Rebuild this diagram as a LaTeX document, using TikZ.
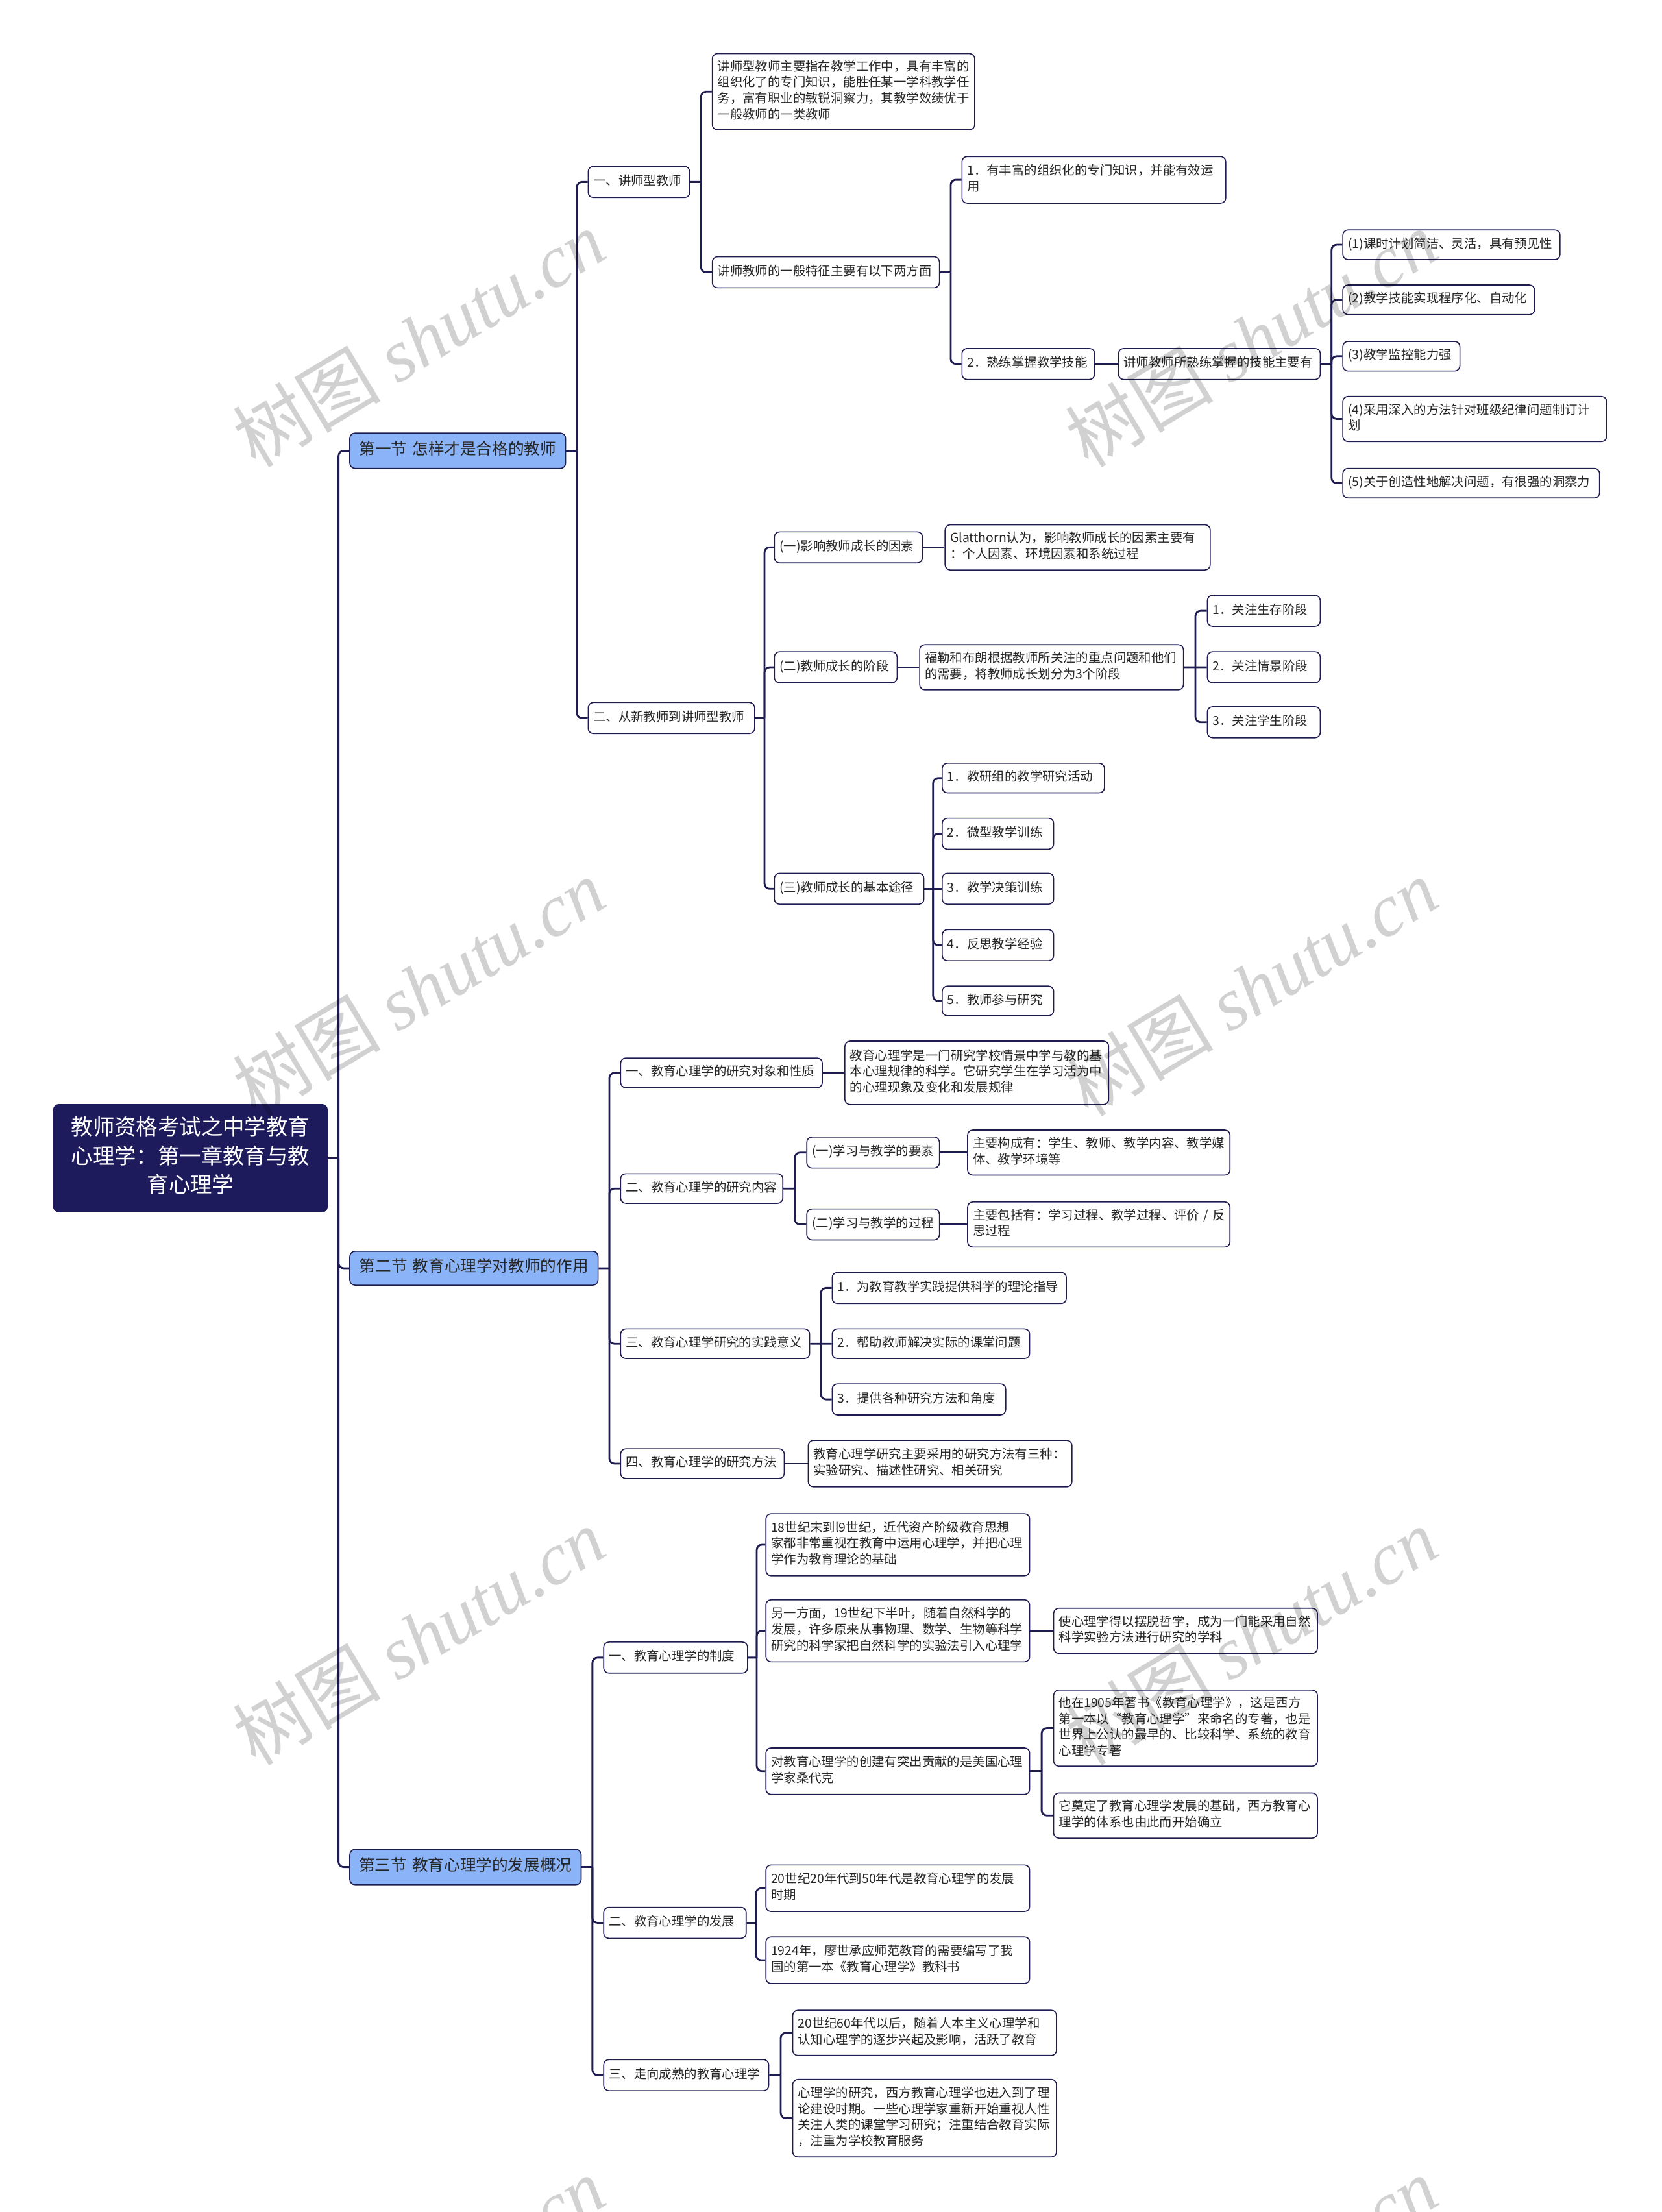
\documentclass[tikz,border=0pt]{standalone}
\usepackage{fontspec}
\setmainfont{Noto Sans CJK SC}
\newfontfamily\wmlatin{Liberation Serif}
\usetikzlibrary{calc}
\definecolor{navy}{HTML}{1E1C50}
\definecolor{rootfill}{HTML}{1E1B5C}
\definecolor{secfill}{HTML}{8BB3F7}
\tikzset{
  link/.style={draw=navy, line width=1.4pt},
  leaf/.style={draw=navy, line width=0.8pt, fill=white, rounded corners=4pt,
    inner xsep=4pt, inner ysep=2pt, align=left, text=black!85,
    font=\fontsize{9.7}{12.4}\selectfont,
    execute at begin node=\strut, execute at end node=\strut},
  secbox/.style={leaf, fill=secfill, align=center, font=\fontsize{12.3}{15}\selectfont},
  rootbox/.style={leaf, draw=rootfill, fill=rootfill, text=white, align=center,
    font=\fontsize{16.7}{22.3}\selectfont},
  wm/.style={rotate=31, text=black, text opacity=0.18, font=\fontsize{57}{57}\selectfont}
}
\newcommand\bx[6][leaf]{%
  \pgfmathsetmacro\bxw{(#5-#3)*1.0866}%
  \pgfmathsetmacro\bxh{(#6-#4)*1.0866}%
  \pgfmathsetmacro\bxt{\bxw-8}%
  \node[#1, minimum width=\bxw pt, minimum height=\bxh pt, text width=\bxt pt]
    (#2) at ({(#3+#5)/2},{(#4+#6)/2}) {\bxtext};%
}
\newcommand\fan[3]{%
  \coordinate (J) at ($(#1.east)!0.5!(#1.east -| #2.west)$);
  \draw[link] (#1.east) -- (J);
  \foreach \ch in {#3}{\draw[link,rounded corners=4pt] (J) |- (\ch.west);}
}
\newcommand\one[2]{\draw[link] (#1.east) -- (#1.east -| #2.west);}
\newcommand\straightkid[2]{\draw[link] (J) -- (#2.west);}
\begin{document}
\begin{tikzpicture}[x=1.0866pt, y=-1.0866pt]
\fill[white] (0,0) rectangle (1178,1568);
\useasboundingbox (0,0) rectangle (1178,1568);

% root and sections
\def\bxtext{教师资格考试之中学教育\\心理学：第一章教育与教\\育心理学}\bx[rootbox]{root}{38}{783}{232}{859}
\def\bxtext{第一节 怎样才是合格的教师}\bx[secbox]{s1}{248}{307}{401}{332}
\def\bxtext{第二节 教育心理学对教师的作用}\bx[secbox]{s2}{248}{887}{424}{911}
\def\bxtext{第三节 教育心理学的发展概况}\bx[secbox]{s3}{248}{1311}{412}{1336}

% section 1
\def\bxtext{一、讲师型教师}\bx{a1}{417}{118}{489}{140}
\def\bxtext{二、从新教师到讲师型教师}\bx{a2}{417}{498}{535}{520}
\def\bxtext{讲师型教师主要指在教学工作中，具有丰富的\\组织化了的专门知识，能胜任某一学科教学任\\务，富有职业的敏锐洞察力，其教学效绩优于\\一般教师的一类教师}\bx{a1a}{505}{38}{691}{92}
\def\bxtext{讲师教师的一般特征主要有以下两方面}\bx{a1b}{505}{182}{666}{204}
\def\bxtext{1．有丰富的组织化的专门知识，并能有效运\\用}\bx{a1b1}{682}{111}{869}{144}
\def\bxtext{2．熟练掌握教学技能}\bx{a1b2}{682}{247}{776}{269}
\def\bxtext{讲师教师所熟练掌握的技能主要有}\bx{a1b2a}{793}{247}{936}{269}
\def\bxtext{(1)课时计划简洁、灵活，具有预见性}\bx{k1}{952}{163}{1106}{184}
\def\bxtext{(2)教学技能实现程序化、自动化}\bx{k2}{952}{202}{1088}{223}
\def\bxtext{(3)教学监控能力强}\bx{k3}{952}{242}{1035}{263}
\def\bxtext{(4)采用深入的方法针对班级纪律问题制订计\\划}\bx{k4}{952}{281}{1139}{313}
\def\bxtext{(5)关于创造性地解决问题，有很强的洞察力}\bx{k5}{952}{332}{1134}{353}

\def\bxtext{(一)影响教师成长的因素}\bx{b1}{549}{377}{654}{399}
\def\bxtext{Glatthorn认为，影响教师成长的因素主要有\\：个人因素、环境因素和系统过程}\bx{b1a}{670}{372}{858}{404}
\def\bxtext{(二)教师成长的阶段}\bx{b2}{549}{462}{636}{484}
\def\bxtext{福勒和布朗根据教师所关注的重点问题和他们\\的需要，将教师成长划分为3个阶段}\bx{b2a}{652}{457}{839}{489}
\def\bxtext{1．关注生存阶段}\bx{g1}{856}{422}{936}{444}
\def\bxtext{2．关注情景阶段}\bx{g2}{856}{462}{936}{484}
\def\bxtext{3．关注学生阶段}\bx{g3}{856}{501}{936}{523}
\def\bxtext{(三)教师成长的基本途径}\bx{b3}{549}{619}{655}{641}
\def\bxtext{1．教研组的教学研究活动}\bx{p1}{668}{541}{783}{562}
\def\bxtext{2．微型教学训练}\bx{p2}{668}{580}{747}{602}
\def\bxtext{3．教学决策训练}\bx{p3}{668}{619}{747}{641}
\def\bxtext{4．反思教学经验}\bx{p4}{668}{659}{747}{681}
\def\bxtext{5．教师参与研究}\bx{p5}{668}{699}{747}{720}

% section 2
\def\bxtext{一、教育心理学的研究对象和性质}\bx{c1}{440}{750}{583}{771}
\def\bxtext{教育心理学是一门研究学校情景中学与教的基\\本心理规律的科学。它研究学生在学习活为中\\的心理现象及变化和发展规律}\bx{c1a}{599}{738}{786}{783}
\def\bxtext{二、教育心理学的研究内容}\bx{c2}{440}{832}{555}{853}
\def\bxtext{(一)学习与教学的要素}\bx{c2a}{572}{806}{666}{828}
\def\bxtext{主要构成有：学生、教师、教学内容、教学媒\\体、教学环境等}\bx{c2aa}{686}{801}{872}{833}
\def\bxtext{(二)学习与教学的过程}\bx{c2b}{572}{857}{666}{879}
\def\bxtext{主要包括有：学习过程、教学过程、评价~/~反\\思过程}\bx{c2ba}{686}{852}{872}{884}
\def\bxtext{三、教育心理学研究的实践意义}\bx{c3}{440}{942}{574}{963}
\def\bxtext{1．为教育教学实践提供科学的理论指导}\bx{q1}{590}{902}{756}{924}
\def\bxtext{2．帮助教师解决实际的课堂问题}\bx{q2}{590}{942}{730}{963}
\def\bxtext{3．提供各种研究方法和角度}\bx{q3}{590}{981}{713}{1003}
\def\bxtext{四、教育心理学的研究方法}\bx{c4}{440}{1027}{556}{1048}
\def\bxtext{教育心理学研究主要采用的研究方法有三种：\\实验研究、描述性研究、相关研究}\bx{c4a}{573}{1021}{760}{1054}

% section 3
\def\bxtext{一、教育心理学的制度}\bx{d1}{428}{1164}{530}{1186}
\def\bxtext{18世纪末到l9世纪，近代资产阶级教育思想\\家都非常重视在教育中运用心理学，并把心理\\学作为教育理论的基础}\bx{d1a}{543}{1073}{730}{1117}
\def\bxtext{另一方面，19世纪下半叶，随着自然科学的\\发展，许多原来从事物理、数学、生物等科学\\研究的科学家把自然科学的实验法引入心理学}\bx{d1b}{543}{1134}{730}{1178}
\def\bxtext{使心理学得以摆脱哲学，成为一门能采用自然\\科学实验方法进行研究的学科}\bx{d1ba}{747}{1140}{934}{1172}
\def\bxtext{对教育心理学的创建有突出贡献的是美国心理\\学家桑代克}\bx{d1c}{543}{1239}{730}{1272}
\def\bxtext{他在1905年著书《教育心理学》，这是西方\\第一本以“教育心理学”来命名的专著，也是\\世界上公认的最早的、比较科学、系统的教育\\心理学专著}\bx{d1ca}{747}{1198}{934}{1252}
\def\bxtext{它奠定了教育心理学发展的基础，西方教育心\\理学的体系也由此而开始确立}\bx{d1cb}{747}{1271}{934}{1303}
\def\bxtext{二、教育心理学的发展}\bx{d2}{428}{1352}{529}{1374}
\def\bxtext{20世纪20年代到50年代是教育心理学的发展\\时期}\bx{d2a}{543}{1322}{730}{1355}
\def\bxtext{1924年，廖世承应师范教育的需要编写了我\\国的第一本《教育心理学》教科书}\bx{d2b}{543}{1373}{730}{1406}
\def\bxtext{三、走向成熟的教育心理学}\bx{d3}{428}{1460}{545}{1482}
\def\bxtext{20世纪60年代以后，随着人本主义心理学和\\认知心理学的逐步兴起及影响，活跃了教育}\bx{d3a}{562}{1425}{749}{1457}
\def\bxtext{心理学的研究，西方教育心理学也进入到了理\\论建设时期。一些心理学家重新开始重视人性\\关注人类的课堂学习研究；注重结合教育实际\\，注重为学校教育服务}\bx{d3b}{562}{1474}{749}{1529}

% connectors
\fan{root}{s1}{s1,s2,s3}
\fan{s1}{a1}{a1,a2}
\fan{a1}{a1a}{a1a,a1b}
\fan{a1b}{a1b1}{a1b1,a1b2}
\one{a1b2}{a1b2a}
\fan{a1b2a}{k1}{k1,k2,k3,k4,k5}
\fan{a2}{b1}{b1,b2,b3}
\one{b1}{b1a}
\one{b2}{b2a}
\fan{b2a}{g1}{g1,g3}\straightkid{b2a}{g2}
\fan{b3}{p1}{p1,p2,p4,p5}\straightkid{b3}{p3}
\fan{s2}{c1}{c1,c2,c3,c4}
\one{c1}{c1a}
\fan{c2}{c2a}{c2a,c2b}
\one{c2a}{c2aa}
\one{c2b}{c2ba}
\fan{c3}{q1}{q1,q3}\straightkid{c3}{q2}
\one{c4}{c4a}
\fan{s3}{d1}{d1,d2,d3}
\fan{d1}{d1a}{d1a,d1b,d1c}
\one{d1b}{d1ba}
\fan{d1c}{d1ca}{d1ca,d1cb}
\fan{d2}{d2a}{d2a,d2b}
\fan{d3}{d3a}{d3a,d3b}

% watermarks
\foreach \wx in {297,887}{
  \foreach \wy in {240,700,1160,1620}{
    \node[wm] (wm-\wx-\wy) at (\wx,\wy) {树图 {\wmlatin\itshape shutu.cn}};
  }
}
\end{tikzpicture}
\end{document}
